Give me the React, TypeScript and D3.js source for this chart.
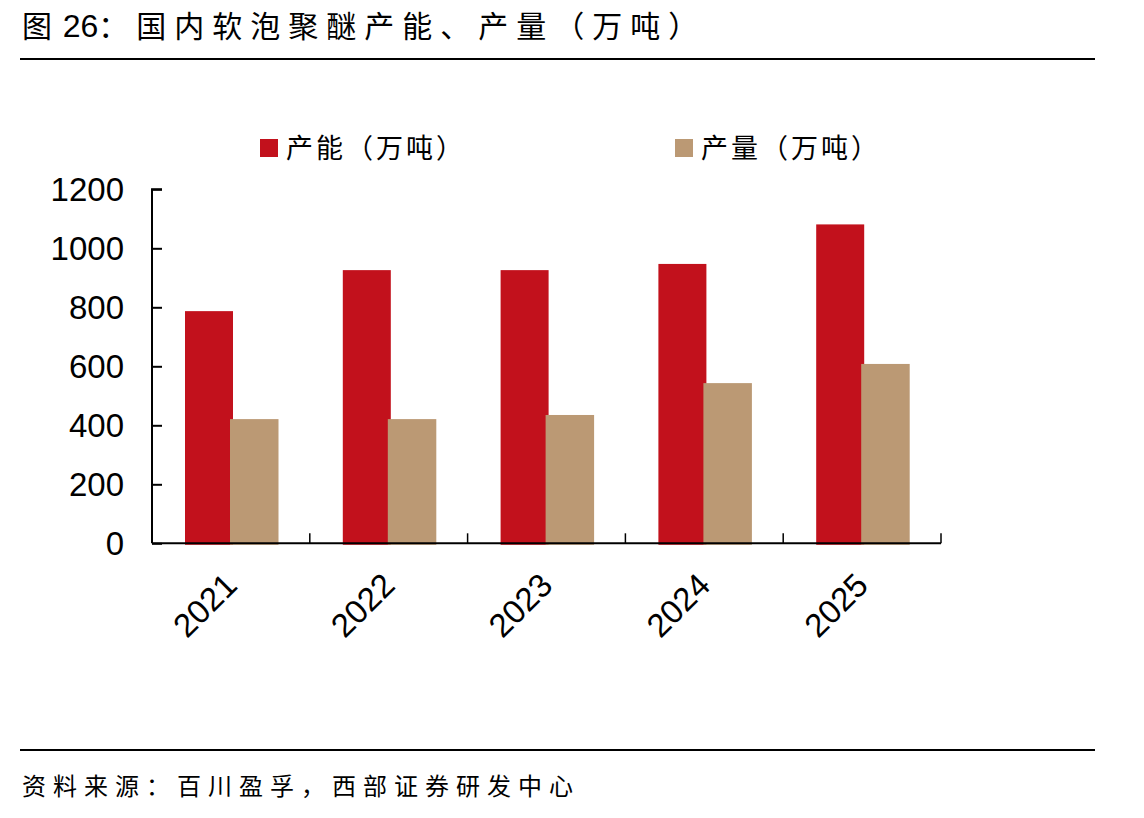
import React, { useEffect, useRef } from 'react';
import * as d3 from 'd3';

// chart data
const years = ['2021', '2022', '2023', '2024', '2025'];
const capacity = [787, 926, 926, 947, 1081];
const output = [421, 421, 435, 543, 608];
const yTicks = [0, 200, 400, 600, 800, 1000, 1200];
const seriesNames = ['产能（万吨）', '产量（万吨）'];
const colors = ['#C2111C', '#BB9974'];

const titleParts = ['图 ', '26', '：国内软泡聚醚产能、产量（万吨）'];
const sourceText = '资料来源：百川盈孚，西部证券研发中心';

function App() {
    const ref = useRef<SVGSVGElement>(null);

    useEffect(() => {
        const svg = d3.select(ref.current);
        svg.selectAll('*').remove();

        const cjk = '"Noto Sans CJK SC", sans-serif';
        const num = '"Liberation Sans", Arial, sans-serif';

        // plot area
        const left = 152, right = 941, top = 189.3, bottom = 543.3;

        const x = d3.scaleBand().domain(years).range([left, right]);
        const y = d3.scaleLinear().domain([0, 1200]).range([bottom, top]);

        // title + rules
        const title = svg.append('text')
            .attr('x', 22).attr('y', 37)
            .attr('font-family', cjk).attr('font-size', 30)
            .attr('fill', '#000');
        title.append('tspan').attr('letter-spacing', 2).text(titleParts[0]);
        title.append('tspan').attr('font-family', num).attr('font-size', 32).text(titleParts[1]);
        title.append('tspan').attr('letter-spacing', 8).text(titleParts[2]);

        svg.append('line')
            .attr('x1', 20).attr('x2', 1095).attr('y1', 59).attr('y2', 59)
            .attr('stroke', '#000').attr('stroke-width', 2);

        svg.append('line')
            .attr('x1', 20).attr('x2', 1095).attr('y1', 750).attr('y2', 750)
            .attr('stroke', '#000').attr('stroke-width', 2);

        svg.append('text')
            .attr('x', 22).attr('y', 795)
            .attr('font-family', cjk).attr('font-size', 24)
            .attr('letter-spacing', 7)
            .attr('fill', '#000')
            .text(sourceText);

        // legend
        const legendX = [260, 675];
        seriesNames.forEach((name, i) => {
            svg.append('rect')
                .attr('x', legendX[i]).attr('y', 139)
                .attr('width', 18).attr('height', 18)
                .attr('fill', colors[i]);
            svg.append('text')
                .attr('x', legendX[i] + 26).attr('y', 158)
                .attr('font-family', cjk).attr('font-size', 27)
                .attr('letter-spacing', 3)
                .attr('fill', '#000')
                .text(name);
        });

        // bars
        const barW = 48;
        const offset = 33;
        const g = svg.append('g');
        g.selectAll('rect.cap')
            .data(capacity)
            .join('rect')
            .attr('class', 'cap')
            .attr('x', (_, i) => (x(years[i]) as number) + offset)
            .attr('y', d => y(d))
            .attr('width', barW)
            .attr('height', d => bottom - y(d) + 1.5)
            .attr('fill', colors[0]);
        g.selectAll('rect.out')
            .data(output)
            .join('rect')
            .attr('class', 'out')
            .attr('x', (_, i) => (x(years[i]) as number) + offset + barW - 3)
            .attr('y', d => y(d))
            .attr('width', barW + 0.5)
            .attr('height', d => bottom - y(d) + 1.5)
            .attr('fill', colors[1]);

        // y axis
        const yAxis = svg.append('g')
            .attr('transform', `translate(${left},0)`)
            .call(d3.axisRight(y).tickValues(yTicks).tickSize(10).tickFormat(() => ''));
        yAxis.select('.domain').attr('stroke', '#000').attr('stroke-width', 2)
            .attr('d', `M10,${top}H0V${bottom}`);
        yAxis.selectAll('.tick line').attr('stroke', '#000').attr('stroke-width', 2);

        svg.append('g').selectAll('text')
            .data(yTicks)
            .join('text')
            .attr('x', 124)
            .attr('y', d => y(d) + 12)
            .attr('text-anchor', 'end')
            .attr('font-family', num).attr('font-size', 33)
            .attr('fill', '#000')
            .text(d => d);

        // x axis
        const xAxis = svg.append('g')
            .attr('transform', `translate(0,${bottom})`);
        xAxis.append('line')
            .attr('x1', left).attr('x2', right).attr('y1', 0).attr('y2', 0)
            .attr('stroke', '#000').attr('stroke-width', 2);
        xAxis.selectAll('line.tk')
            .data(years)
            .join('line')
            .attr('class', 'tk')
            .attr('x1', d => (x(d) as number) + x.bandwidth())
            .attr('x2', d => (x(d) as number) + x.bandwidth())
            .attr('y1', 0).attr('y2', -10)
            .attr('stroke', '#000').attr('stroke-width', 1.5);

        svg.append('g').selectAll('text')
            .data(years)
            .join('text')
            .attr('transform', d => {
                const cx = (x(d) as number) + x.bandwidth() / 2 + 8;
                return `translate(${cx},${bottom + 44}) rotate(-45)`;
            })
            .attr('text-anchor', 'end')
            .attr('font-family', num).attr('font-size', 33)
            .attr('fill', '#000')
            .text(d => d);
    }, []);

    return (
        <div>
            <svg ref={ref} width={1144} height={818} style={{ position: 'absolute', left: 0, top: 0, background: '#fff' }}></svg>
        </div>
    );
}

export default App;
